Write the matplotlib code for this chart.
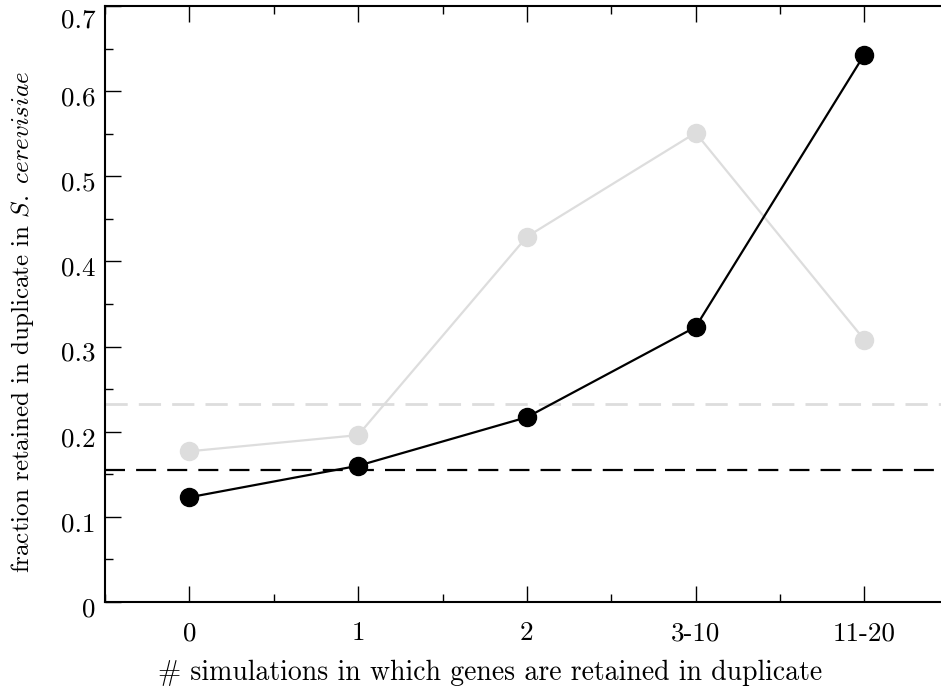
import matplotlib
matplotlib.use("Agg")
import matplotlib.pyplot as plt
import matplotlib.transforms as mtransforms
from matplotlib.ticker import MultipleLocator

# Dati
categorie = ["0", "1", "2", "3-10", "11-20"]
frazione_nera = [0.123, 0.160, 0.217, 0.323, 0.643]
frazione_grigia = [0.177, 0.196, 0.429, 0.551, 0.308]
media_nera = 0.155
media_grigia = 0.233
y_ticks = [0, 0.1, 0.2, 0.3, 0.4, 0.5, 0.6, 0.7]
y_tick_labels = ["0", "0.1", "0.2", "0.3", "0.4", "0.5", "0.6", "0.7"]

plt.rcParams["font.family"] = ["cmr10", "DejaVu Serif"]
plt.rcParams["mathtext.fontset"] = "cm"
plt.rcParams["axes.unicode_minus"] = False

grigio = "#dddddd"

fig = plt.figure(figsize=(9.41, 6.94), dpi=100)
# l'asse destro finisce fuori dalla figura, come nell'originale
ax = fig.add_axes([105 / 941, 92 / 694, 843.75 / 941, 596 / 694])

x = list(range(len(categorie)))

ax.axhline(media_grigia, color=grigio, lw=2, dashes=(8, 4), zorder=1)
ax.axhline(media_nera, color="black", lw=1.6, dashes=(9, 5), zorder=2)

ax.plot(x, frazione_grigia, color=grigio, lw=1.6, marker="o", ms=13,
        mfc=grigio, mec=grigio, zorder=3)
ax.plot(x, frazione_nera, color="black", lw=1.6, marker="o", ms=13,
        mfc="black", mec="black", zorder=4)

ax.set_xlim(-0.5, 4.5)
ax.set_ylim(0, 0.7)

ax.set_xticks(x)
ax.set_xticklabels(categorie)
ax.xaxis.set_minor_locator(MultipleLocator(0.5))
ax.set_yticks(y_ticks)
ax.set_yticklabels(y_tick_labels)
ax.yaxis.set_minor_locator(MultipleLocator(0.05))

ax.tick_params(which="both", direction="in", top=True, right=False,
               width=1, labelsize=19.5)
ax.tick_params(which="major", length=11.5, pad=14)
ax.tick_params(which="minor", length=6)
ax.tick_params(axis="y", which="major", pad=7)

# le etichette dell'asse y stanno un po' sotto i tick (0.7 ancora di piu')
for etichetta in ax.get_yticklabels():
    spost = -12 if etichetta.get_text() == "0.7" else -5
    etichetta.set_transform(etichetta.get_transform() +
                            mtransforms.ScaledTranslation(0, spost / 100, fig.dpi_scale_trans))

for lato in ["left", "bottom", "top", "right"]:
    ax.spines[lato].set_linewidth(1.5)

ax.set_xlabel("# simulations in which genes are retained in duplicate",
              fontsize=20)
ax.xaxis.set_label_coords(0.456, -0.097)
ax.set_ylabel(r"fraction retained in duplicate in $\mathit{S.\ cerevisiae}$",
              fontsize=18)
ax.yaxis.set_label_coords(-0.082, 0.47)

fig.savefig("out.png", dpi=100)
